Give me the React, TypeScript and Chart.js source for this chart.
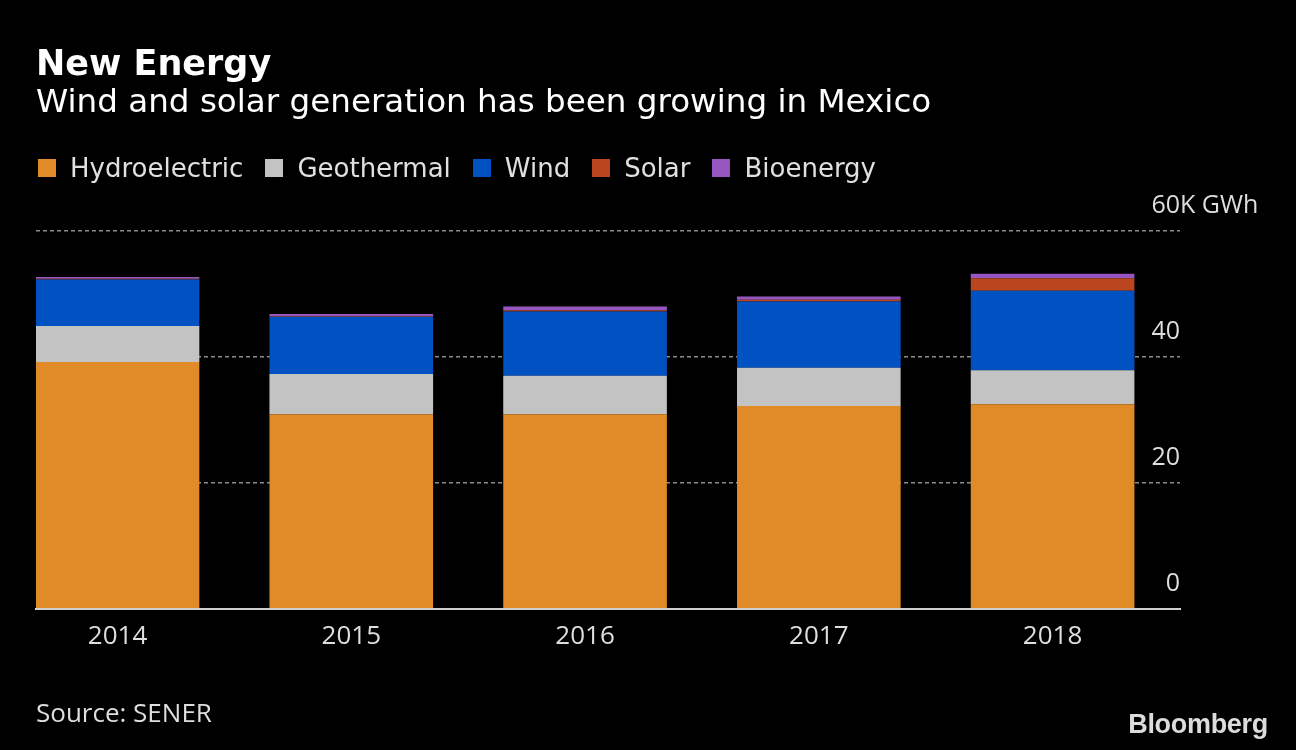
import React, { useEffect, useRef } from "react";
import { Chart, registerables } from "chart.js";

Chart.register(...registerables);

const years = ["2014", "2015", "2016", "2017", "2018"];
const hydroelectric = [39.2, 30.9, 30.9, 32.2, 32.5];
const geothermal = [5.7, 6.4, 6.1, 6.1, 5.4];
const wind = [7.4, 9.1, 10.2, 10.5, 12.6];
const solar = [0.1, 0.1, 0.2, 0.3, 2.0];
const bioenergy = [0.3, 0.3, 0.6, 0.5, 0.7];
const yTicks = [0, 20, 40, 60];
const unitLabel = "K GWh";

const seriesNames = ["Hydroelectric", "Geothermal", "Wind", "Solar", "Bioenergy"];
const seriesColors = ["#e08b27", "#c3c3c3", "#0051c2", "#b9461f", "#9556c0"];

const TICK_FONT = "'Open Sans', 'Noto Sans', sans-serif";
const TEXT_FONT = "'DejaVu Sans', sans-serif";

const yLabelPlugin = {
  id: "yLabels",
  afterDraw(chart: any) {
    const { ctx, chartArea, scales } = chart;
    const y = scales.y;
    ctx.save();
    ctx.font = `25px ${TICK_FONT}`;
    ctx.fillStyle = "#dedede";
    ctx.textBaseline = "alphabetic";
    yTicks.forEach((v) => {
      const py = y.getPixelForValue(v) - 18;
      const s = String(v);
      ctx.textAlign = "right";
      ctx.fillText(s, chartArea.right, py);
      if (v === yTicks[yTicks.length - 1]) {
        ctx.textAlign = "left";
        ctx.fillText(unitLabel, chartArea.right, py);
      }
    });
    ctx.restore();
  },
};

function App() {
  const ref = useRef<HTMLCanvasElement | null>(null);
  useEffect(() => {
    if (!ref.current) return;
    const all = [hydroelectric, geothermal, wind, solar, bioenergy];
    const chart = new Chart(ref.current, {
      type: "bar",
      data: {
        datasets: all.map((arr, k) => ({
          label: seriesNames[k],
          data: arr.map((v, i) => ({ x: i, y: v })),
          backgroundColor: seriesColors[k],
          borderWidth: 0,
          categoryPercentage: 1,
          barPercentage: 0.7,
        })),
      },
      options: {
        animation: false,
        responsive: false,
        maintainAspectRatio: false,
        layout: { padding: { left: 36, right: 116, top: 231, bottom: 86 } },
        plugins: {
          legend: { display: false },
          tooltip: { enabled: false },
          title: { display: false },
        },
        scales: {
          x: {
            type: "linear",
            stacked: true,
            offset: false,
            bounds: "ticks",
            min: -0.3487,
            max: 4.545,
            afterBuildTicks: (scale: any) => {
              scale.ticks = years.map((_, i) => ({ value: i }));
            },
            ticks: {
              callback: (v: any) => years[v] ?? "",
              color: "#dedede",
              font: { family: TICK_FONT, size: 26 },
              padding: 12,
              maxRotation: 0,
              autoSkip: false,
            },
            grid: { display: false, drawTicks: false, tickLength: 0 },
            border: { display: true, color: "#d0d0d0", width: 2 },
          },
          y: {
            type: "linear",
            stacked: true,
            position: "right",
            min: 0,
            max: 60,
            ticks: { display: false, stepSize: 20 },
            grid: { color: "#8c8c8c", lineWidth: 1.5, drawTicks: false, tickLength: 0 },
            border: { display: false, dash: [4, 3] },
          },
        },
      },
      plugins: [yLabelPlugin],
    });
    return () => chart.destroy();
  }, []);

  return (
    <div
      style={{
        position: "fixed",
        left: 0,
        top: 0,
        width: 1296,
        height: 750,
        background: "#000",
        overflow: "hidden",
        fontFamily: TEXT_FONT,
      }}
    >
      <canvas ref={ref} width={1296} height={750} style={{ position: "absolute", left: 0, top: 0 }} />
      <div style={{ position: "absolute", left: 36, top: 41, color: "#fff", fontSize: 35, fontWeight: 700, lineHeight: "44px", whiteSpace: "nowrap" }}>
        New Energy
      </div>
      <div style={{ position: "absolute", left: 36, top: 82, color: "#fff", fontSize: 32.6, lineHeight: "38px", whiteSpace: "nowrap" }}>
        Wind and solar generation has been growing in Mexico
      </div>
      <div style={{ position: "absolute", left: 38, top: 151, display: "flex", alignItems: "center", color: "#e0e0e0", fontSize: 26, lineHeight: "34px", whiteSpace: "nowrap" }}>
        {seriesNames.map((n, i) => (
          <div key={n} style={{ display: "flex", alignItems: "center", marginRight: 22 }}>
            <span style={{ display: "inline-block", width: 18, height: 18, background: seriesColors[i], marginRight: 14 }} />
            <span>{n}</span>
          </div>
        ))}
      </div>
      <div style={{ position: "absolute", left: 36, top: 696, color: "#dedede", fontSize: 26, lineHeight: "32px", fontFamily: TICK_FONT, whiteSpace: "nowrap" }}>
        Source: SENER
      </div>
      <div style={{ position: "absolute", right: 28, top: 708, color: "#dcdcdc", fontSize: 27, fontWeight: 700, lineHeight: "32px", fontFamily: "'Liberation Sans', Arial, sans-serif", letterSpacing: -0.3, whiteSpace: "nowrap" }}>
        Bloomberg
      </div>
    </div>
  );
}

export default App;
